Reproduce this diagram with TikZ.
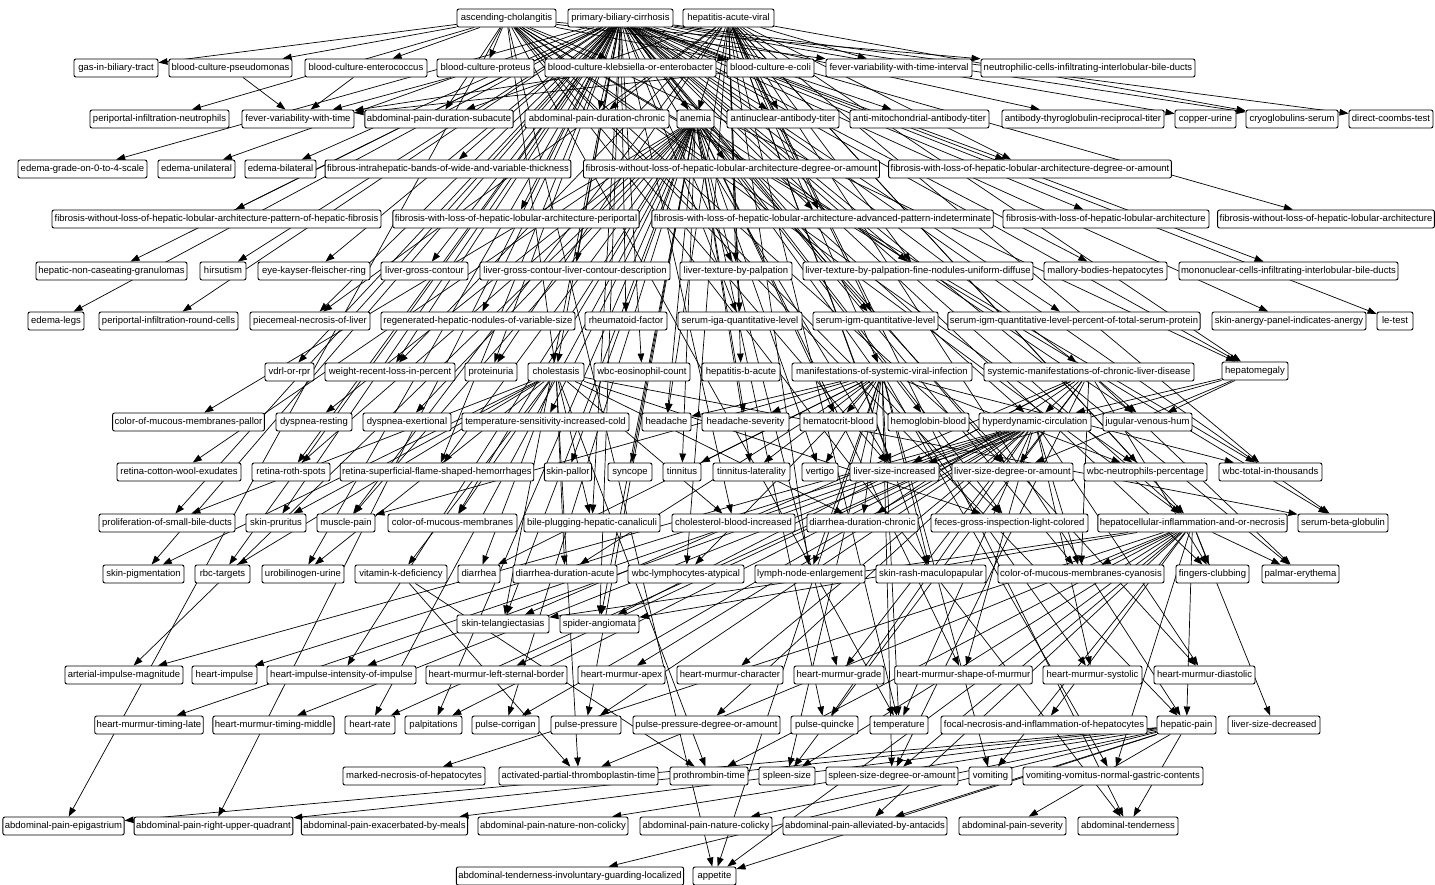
\documentclass[tikz,border=0pt]{standalone}
\usepackage{fontspec}
\setmainfont{Liberation Sans}
\usetikzlibrary{arrows.meta}
\pgfdeclarelayer{edgelayer}
\pgfsetlayers{edgelayer,main}
\tikzset{
  box/.style={draw, line width=0.9pt, rounded corners=2pt, fill=white, minimum height=18pt,
    inner xsep=2pt, inner ysep=0pt, text height=7pt, text depth=2pt,
    font=\fontsize{9.5}{11}\selectfont},
  edge/.style={line width=0.7pt, -{Triangle[length=9pt,width=6.5pt]}}
}
\newcommand{\nd}[5]{\node[box,minimum width=#4pt] (#1) at (#2,#3) {#5};}
\begin{document}
\begin{tikzpicture}[x=1pt,y=-1pt]
\useasboundingbox (0,0) rectangle (1435,884);
% row 1
\nd{ac}{506.5}{18}{99}{ascending-cholangitis}
\nd{pbc}{620.5}{18}{105}{primary-biliary-cirrhosis}
\nd{hav}{728.5}{18}{91}{hepatitis-acute-viral}
% row 2
\nd{gas}{116}{68}{84}{gas-in-biliary-tract}
\nd{bcps}{230.5}{68}{123}{blood-culture-pseudomonas}
\nd{bcen}{366}{68}{122}{blood-culture-enterococcus}
\nd{bcpr}{485.5}{68}{97}{blood-culture-proteus}
\nd{bckl}{630.5}{68}{171}{blood-culture-klebsiella-or-enterobacter}
\nd{bcec}{770.5}{68}{87}{blood-culture-e-coli}
\nd{fvti}{899}{68}{146}{fever-variability-with-time-interval}
\nd{neut}{1088}{68}{214}{neutrophilic-cells-infiltrating-interlobular-bile-ducts}
% row 3
\nd{ppn}{159.5}{119}{139}{periportal-infiltration-neutrophils}
\nd{fvt}{298}{119}{112}{fever-variability-with-time}
\nd{apsub}{439}{119}{148}{abdominal-pain-duration-subacute}
\nd{apchr}{597}{119}{144}{abdominal-pain-duration-chronic}
\nd{anemia}{695.5}{119}{37}{anemia}
\nd{ana}{783}{119}{112}{antinuclear-antibody-titer}
\nd{ama}{919.5}{119}{139}{anti-mitochondrial-antibody-titer}
\nd{atg}{1083}{119}{162}{antibody-thyroglobulin-reciprocal-titer}
\nd{cu}{1205.5}{119}{61}{copper-urine}
\nd{cryo}{1292}{119}{92}{cryoglobulins-serum}
\nd{coombs}{1391}{119}{84}{direct-coombs-test}
% row 4
\nd{edg}{82.5}{169}{129}{edema-grade-on-0-to-4-scale}
\nd{edu}{196.5}{169}{77}{edema-unilateral}
\nd{edb}{280.5}{169}{71}{edema-bilateral}
\nd{fib}{448}{169}{240}{fibrous-intrahepatic-bands-of-wide-and-variable-thickness}
\nd{fwold}{731.5}{169}{293}{fibrosis-without-loss-of-hepatic-lobular-architecture-degree-or-amount}
\nd{fwld}{1030}{169}{282}{fibrosis-with-loss-of-hepatic-lobular-architecture-degree-or-amount}
% row 5
\nd{fwolp}{216.5}{219}{329}{fibrosis-without-loss-of-hepatic-lobular-architecture-pattern-of-hepatic-fibrosis}
\nd{fwlp}{516}{219}{246}{fibrosis-with-loss-of-hepatic-lobular-architecture-periportal}
\nd{fwla}{822.5}{219}{339}{fibrosis-with-loss-of-hepatic-lobular-architecture-advanced-pattern-indeterminate}
\nd{fwl}{1106}{219}{206}{fibrosis-with-loss-of-hepatic-lobular-architecture}
\nd{fwol}{1326}{219}{214}{fibrosis-without-loss-of-hepatic-lobular-architecture}
% row 6
\nd{hncg}{111.5}{271}{151}{hepatic-non-caseating-granulomas}
\nd{hirs}{223}{271}{46}{hirsutism}
\nd{ekf}{314}{271}{112}{eye-kayser-fleischer-ring}
\nd{lgc}{424.5}{271}{87}{liver-gross-contour}
\nd{lgcd}{575}{271}{190}{liver-gross-contour-liver-contour-description}
\nd{ltp}{736}{271}{112}{liver-texture-by-palpation}
\nd{ltpf}{918}{271}{230}{liver-texture-by-palpation-fine-nodules-uniform-diffuse}
\nd{mallory}{1105.5}{271}{123}{mallory-bodies-hepatocytes}
\nd{mono}{1288.5}{271}{219}{mononuclear-cells-infiltrating-interlobular-bile-ducts}
% row 7
\nd{edleg}{56}{321}{56}{edema-legs}
\nd{ppr}{168.5}{321}{139}{periportal-infiltration-round-cells}
\nd{piece}{310}{321}{120}{piecemeal-necrosis-of-liver}
\nd{regen}{478}{321}{194}{regenerated-hepatic-nodules-of-variable-size}
\nd{rf}{626}{321}{82}{rheumatoid-factor}
\nd{iga}{740}{321}{124}{serum-iga-quantitative-level}
\nd{igm}{875.5}{321}{125}{serum-igm-quantitative-level}
\nd{igmp}{1074}{321}{252}{serum-igm-quantitative-level-percent-of-total-serum-protein}
\nd{anergy}{1289}{321}{154}{skin-anergy-panel-indicates-anergy}
\nd{le}{1395}{321}{36}{le-test}
% row 8
\nd{vdrl}{289.5}{372}{49}{vdrl-or-rpr}
\nd{wloss}{390}{372}{130}{weight-recent-loss-in-percent}
\nd{prot}{491}{372}{52}{proteinuria}
\nd{chol}{556}{372}{56}{cholestasis}
\nd{eos}{642}{372}{96}{wbc-eosinophil-count}
\nd{hbv}{741}{372}{78}{hepatitis-b-acute}
\nd{msvi}{882}{372}{180}{manifestations-of-systemic-viral-infection}
\nd{smcld}{1089}{372}{210}{systemic-manifestations-of-chronic-liver-disease}
\nd{hepm}{1255}{371}{66}{hepatomegaly}
% row 9
\nd{pallor}{188.5}{422}{151}{color-of-mucous-membranes-pallor}
\nd{dysr}{314}{422}{76}{dyspnea-resting}
\nd{dyse}{407}{422}{88}{dyspnea-exertional}
\nd{tsic}{545.5}{422}{167}{temperature-sensitivity-increased-cold}
\nd{head}{666.5}{422}{49}{headache}
\nd{heads}{745.5}{422}{87}{headache-severity}
\nd{hct}{838.5}{422}{77}{hematocrit-blood}
\nd{hgb}{928.5}{422}{81}{hemoglobin-blood}
\nd{hyper}{1035}{422}{112}{hyperdynamic-circulation}
\nd{jvh}{1147.5}{422}{89}{jugular-venous-hum}
% row 10
\nd{rcw}{179}{472}{124}{retina-cotton-wool-exudates}
\nd{rroth}{291}{472}{78}{retina-roth-spots}
\nd{rsfh}{437}{472}{192}{retina-superficial-flame-shaped-hemorrhages}
\nd{spall}{568}{472}{46}{skin-pallor}
\nd{sync}{630}{472}{44}{syncope}
\nd{tinn}{682}{472}{38}{tinnitus}
\nd{tinnl}{751.5}{472}{77}{tinnitus-laterality}
\nd{vert}{820}{472}{36}{vertigo}
\nd{lsi}{894.5}{472}{89}{liver-size-increased}
\nd{lsd}{1012.5}{472}{121}{liver-size-degree-or-amount}
\nd{neutp}{1145.5}{472}{123}{wbc-neutrophils-percentage}
\nd{wbct}{1270.5}{472}{103}{wbc-total-in-thousands}
% row 11
\nd{psbd}{167}{523}{136}{proliferation-of-small-bile-ducts}
\nd{prur}{276}{523}{60}{skin-pruritus}
\nd{muscle}{346}{523}{58}{muscle-pain}
\nd{cmm}{452.5}{523}{129}{color-of-mucous-membranes}
\nd{bph}{592}{523}{136}{bile-plugging-hepatic-canaliculi}
\nd{chbi}{733.5}{523}{123}{cholesterol-blood-increased}
\nd{ddc}{862.5}{523}{111}{diarrhea-duration-chronic}
\nd{feces}{1009.5}{523}{157}{feces-gross-inspection-light-colored}
\nd{hin}{1192.5}{523}{189}{hepatocellular-inflammation-and-or-necrosis}
\nd{sbg}{1343}{523}{90}{serum-beta-globulin}
% row 12
\nd{spig}{143.5}{574}{81}{skin-pigmentation}
\nd{rbct}{222.5}{574}{55}{rbc-targets}
\nd{urob}{303}{574}{82}{urobilinogen-urine}
\nd{vitk}{401}{574}{92}{vitamin-k-deficiency}
\nd{diar}{479}{574}{42}{diarrhea}
\nd{dda}{565}{574}{104}{diarrhea-duration-acute}
\nd{wla}{686}{574}{116}{wbc-lymphocytes-atypical}
\nd{lne}{810}{574}{110}{lymph-node-enlargement}
\nd{rash}{931}{574}{110}{skin-rash-maculopapular}
\nd{cyan}{1081}{574}{166}{color-of-mucous-membranes-cyanosis}
\nd{clubb}{1212.5}{574}{73}{fingers-clubbing}
\nd{palm}{1300.5}{574}{77}{palmar-erythema}
% row 13
\nd{tel}{503}{624}{92}{skin-telangiectasias}
\nd{spider}{599.5}{624}{79}{spider-angiomata}
% row 14
\nd{aim}{124}{675}{118}{arterial-impulse-magnitude}
\nd{himp}{224.5}{675}{65}{heart-impulse}
\nd{hii}{341.5}{675}{149}{heart-impulse-intensity-of-impulse}
\nd{hmlsb}{496.5}{675}{141}{heart-murmur-left-sternal-border}
\nd{hmap}{621.5}{675}{87}{heart-murmur-apex}
\nd{hmch}{730}{675}{106}{heart-murmur-character}
\nd{hmgr}{839}{675}{90}{heart-murmur-grade}
\nd{hmsh}{963.5}{675}{137}{heart-murmur-shape-of-murmur}
\nd{hmsys}{1092.5}{675}{99}{heart-murmur-systolic}
\nd{hmdia}{1204.5}{675}{101}{heart-murmur-diastolic}
% row 15
\nd{hmtl}{149}{725}{108}{heart-murmur-timing-late}
\nd{hmtm}{273.5}{725}{121}{heart-murmur-timing-middle}
\nd{hr}{370}{725}{50}{heart-rate}
\nd{palp}{433.5}{725}{57}{palpitations}
\nd{pcor}{505.5}{725}{67}{pulse-corrigan}
\nd{pp}{586}{725}{70}{pulse-pressure}
\nd{ppd}{706.5}{725}{147}{pulse-pressure-degree-or-amount}
\nd{pq}{824.5}{725}{67}{pulse-quincke}
\nd{temp}{899}{725}{58}{temperature}
\nd{focal}{1044}{725}{206}{focal-necrosis-and-inflammation-of-hepatocytes}
\nd{hpain}{1186.5}{725}{59}{hepatic-pain}
\nd{lsdec}{1274}{725}{92}{liver-size-decreased}
% row 16
\nd{mnec}{414}{776}{142}{marked-necrosis-of-hepatocytes}
\nd{aptt}{578.5}{776}{159}{activated-partial-thromboplastin-time}
\nd{pt}{709}{776}{78}{prothrombin-time}
\nd{ss}{787}{776}{56}{spleen-size}
\nd{ssd}{892}{776}{132}{spleen-size-degree-or-amount}
\nd{vom}{990.5}{776}{43}{vomiting}
\nd{vomv}{1113}{776}{180}{vomiting-vomitus-normal-gastric-contents}
% row 17
\nd{apepi}{63.5}{826}{121}{abdominal-pain-epigastrium}
\nd{apruq}{213.5}{826}{157}{abdominal-pain-right-upper-quadrant}
\nd{apmeal}{384.5}{826}{165}{abdominal-pain-exacerbated-by-meals}
\nd{apnnc}{553}{826}{150}{abdominal-pain-nature-non-colicky}
\nd{apnc}{706}{826}{132}{abdominal-pain-nature-colicky}
\nd{apant}{865}{826}{164}{abdominal-pain-alleviated-by-antacids}
\nd{apsev}{1012.5}{826}{107}{abdominal-pain-severity}
\nd{atend}{1128}{826}{100}{abdominal-tenderness}
% row 18
\nd{atig}{570}{876}{226}{abdominal-tenderness-involuntary-guarding-localized}
\nd{appetite}{714.5}{876}{43}{appetite}

\begin{pgfonlayer}{edgelayer}
\foreach \t in {gas,bcps,bcen,bcpr,bckl,bcec,fvti,neut,ppn,apsub,chol,hepm,temp,wbct,neutp,hpain,atend,apepi,appetite,lsi,hin,feces,sbg,lsd}
  \draw[edge] (ac) -- (\t);
\foreach \t in {anemia,ana,ama,atg,cu,cryo,coombs,apchr,edg,edu,edb,fib,fwold,fwld,fwolp,fwlp,fwla,fwl,fwol,hncg,hirs,ekf,lgc,lgcd,ltp,ltpf,mallory,mono,edleg,ppr,piece,regen,rf,iga,igm,igmp,anergy,le,vdrl,wloss,prot,chol,eos,smcld,hepm,psbd,bph,sbg,prur,rbct,apruq,chbi,feces,urob,spig,lsi,lsd,hin,clubb,palm,tel,spider,cyan,rroth,rsfh}
  \draw[edge] (pbc) -- (\t);
\foreach \t in {anemia,fvti,apsub,hbv,msvi,iga,igm,hin,lsi,ltp,ltpf,cryo,fwld,fwla,wla,lne,rash,head,muscle,hpain,atend,temp,piece,prot,wloss,ana,apchr,hepm,neutp,wbct}
  \draw[edge] (hav) -- (\t);
\foreach \s in {bcps,bcen,bcpr,bckl,bcec}
  \draw[edge] (\s) -- (fvt);
\foreach \t in {pallor,dysr,dyse,tsic,head,heads,hct,hgb,hyper,jvh,rcw,rroth,rsfh,spall,sync,tinn,tinnl,vert,muscle,cmm,palp,hr,hii,aim,pp,pq,pcor,hmsys,hmgr,hmdia,hmsh,spider,tel}
  \draw[edge] (anemia) -- (\t);
\foreach \t in {prur,spig,rbct,urob,vitk,bph,chbi,feces,diar,sbg,psbd,ddc,dda,cmm,pt,aptt}
  \draw[edge] (chol) -- (\t);
\foreach \t in {head,heads,muscle,temp,lne,rash,wla,dda,diar,ddc,neutp,wbct,tinn,tinnl,vert,ss,ssd,vom,vomv,appetite,hct}
  \draw[edge] (msvi) -- (\t);
\foreach \t in {cyan,clubb,palm,tel,spider,hyper,jvh,ss,ssd,ddc,lsd,lsi}
  \draw[edge] (smcld) -- (\t);
\foreach \t in {jvh,hyper,lsi,lsd}
  \draw[edge] (hepm) -- (\t);
\foreach \t in {aim,himp,hii,hmlsb,hmap,hmch,hmgr,hmsh,hmsys,hmdia,hmtl,hmtm,hr,palp,pcor,pp,ppd,pq,temp,cyan}
  \draw[edge] (hyper) -- (\t);
\foreach \t in {pt,aptt,focal,mnec,hpain,lsdec,clubb,palm,cyan,ss,ssd,vom,vomv,appetite,apant,tel,spider}
  \draw[edge] (hin) -- (\t);
\foreach \t in {aptt,pt}
  \draw[edge] (vitk) -- (\t);
\foreach \t in {apepi,apruq,apmeal,apnnc,apnc,apant,apsev,atend,atig,appetite}
  \draw[edge] (hpain) -- (\t);
\end{pgfonlayer}
\end{tikzpicture}
\end{document}
